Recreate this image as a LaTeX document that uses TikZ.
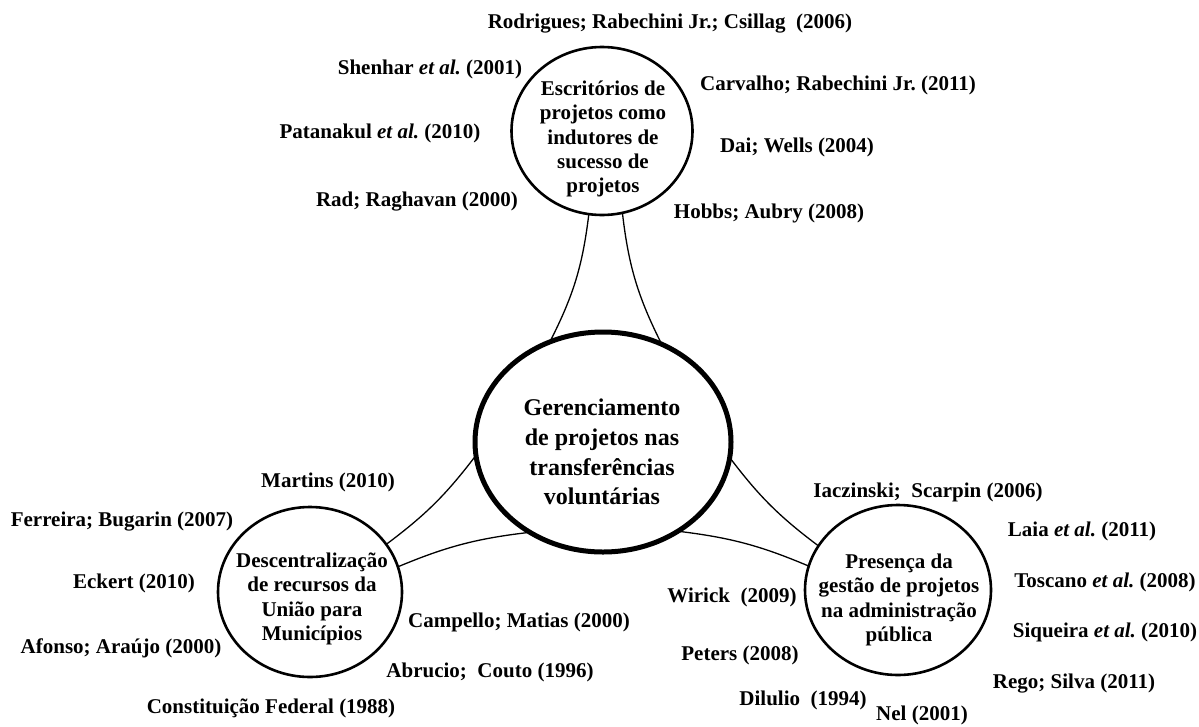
\documentclass[tikz,border=0pt]{standalone}
\usepackage{fontspec}
\setmainfont{Liberation Serif}
\frenchspacing
\usetikzlibrary{shapes.geometric}
\tikzset{
  theme/.style={ellipse, draw=black, line width=2.6pt, inner sep=0pt, outer sep=0pt},
  hubring/.style={ellipse, draw=black, line width=5pt, inner sep=0pt, outer sep=0pt},
  themetext/.style={align=center, inner sep=0pt, font=\fontsize{21}{24.3}\selectfont\bfseries},
  hubtext/.style={align=center, inner sep=0pt, font=\fontsize{24}{29.7}\selectfont\bfseries},
  ref/.style={inner sep=0pt, font=\fontsize{21}{24}\selectfont\bfseries},
  link/.style={draw=black, line width=1.3pt}
}
\begin{document}
\begin{tikzpicture}[x=1pt, y=-1pt]
\useasboundingbox (0,0) rectangle (1199,726);

% main topic and the three themes
\node[hubring, minimum width=256, minimum height=220] (hub) at (603,442) {};
\node[theme, minimum width=181, minimum height=168] (pmo) at (602,131) {};
\node[theme, minimum width=184, minimum height=170] (dec) at (310,592) {};
\node[theme, minimum width=186, minimum height=170] (pub) at (898,590) {};

\node[hubtext] (hubt) at (602,452) {Gerenciamento\\de projetos nas\\transferências\\voluntárias};
\node[themetext] (pmot) at (603,139) {Escritórios de\\projetos como\\indutores de\\sucesso de\\projetos};
\node[themetext] (dect) at (312,599) {Descentralização\\de recursos da\\União para\\Municípios};
\node[themetext] (pubt) at (899,600) {Presença da\\gestão de projetos\\na administração\\pública};

% connectors between the themes and the main topic
\draw[link] (pmo.-99.2) to[bend left=10] (hub.118);
\draw[link] (pmo.-76.9) to[bend right=10] (hub.59.5);
\draw[link] (hub.-174.3) to[bend left=8] (dec.32.7);
\draw[link] (hub.-129.7) to[bend right=8] (dec.16.1);
\draw[link] (hub.-7) to[bend right=8] (pub.151.8);
\draw[link] (hub.-50) to[bend left=8] (pub.165.4);

% references around the project office theme
\node[ref] (r1) at (670,24) {Rodrigues; Rabechini Jr.; Csillag~ (2006)};
\node[ref] (r2) at (430,69) {Shenhar \textit{et al.} (2001)};
\node[ref] (r3) at (838,85) {Carvalho; Rabechini Jr. (2011)};
\node[ref] (r4) at (380,133) {Patanakul \textit{et al.} (2010)};
\node[ref] (r5) at (797,147) {Dai; Wells (2004)};
\node[ref] (r6) at (417,202) {Rad; Raghavan (2000)};
\node[ref] (r7) at (769,213) {Hobbs; Aubry (2008)};

% references around the decentralisation theme
\node[ref] (r8) at (328,482) {Martins (2010)};
\node[ref] (r9) at (122,522) {Ferreira; Bugarin (2007)};
\node[ref] (r10) at (134,583) {Eckert (2010)};
\node[ref] (r11) at (519,622) {Campello; Matias (2000)};
\node[ref] (r12) at (121,648) {Afonso; Araújo (2000)};
\node[ref] (r13) at (490,672) {Abrucio;~ Couto (1996)};
\node[ref] (r14) at (271,708) {Constituição Federal (1988)};

% references around the public administration theme
\node[ref] (r15) at (928,492) {Iaczinski;~ Scarpin (2006)};
\node[ref] (r16) at (1082,531) {Laia \textit{et al.} (2011)};
\node[ref] (r17) at (1105,582) {Toscano \textit{et al.} (2008)};
\node[ref] (r18) at (732,597) {Wirick~ (2009)};
\node[ref] (r19) at (1105,632) {Siqueira \textit{et al.} (2010)};
\node[ref] (r20) at (740,655) {Peters (2008)};
\node[ref] (r21) at (1074,684) {Rego; Silva (2011)};
\node[ref] (r22) at (803,700) {Dilulio~ (1994)};
\node[ref] (r23) at (922,715) {Nel (2001)};
\end{tikzpicture}
\end{document}
